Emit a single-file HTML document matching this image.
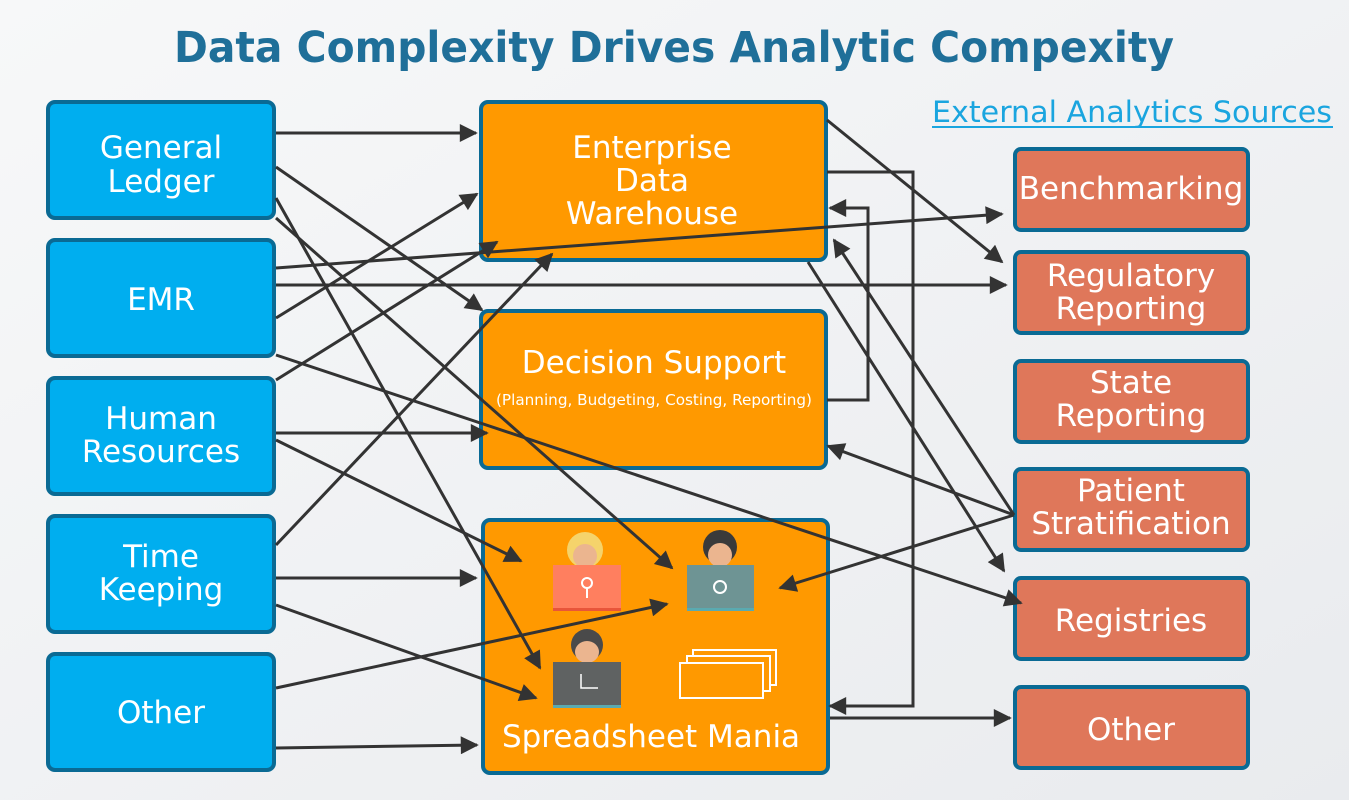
<!DOCTYPE html>
<html><head><meta charset="utf-8"><style>
body{margin:0;background:#f3f4f6;}
svg{display:block;font-family:"DejaVu Sans","Liberation Sans",sans-serif;}
</style></head><body>
<svg width="1349" height="800" viewBox="0 0 1349 800">
<defs>
<linearGradient id="bg" x1="0" y1="0" x2="1" y2="1"><stop offset="0" stop-color="#f7f8f9"/><stop offset="1" stop-color="#e9ebee"/></linearGradient>
<marker id="ar" viewBox="0 0 10 10" refX="9" refY="5" markerWidth="22" markerHeight="18" orient="auto" markerUnits="userSpaceOnUse"><path d="M0,0 L10,5 L0,10 z" fill="#333"/></marker>
</defs>
<rect width="1349" height="800" fill="url(#bg)"/>
<text x="674" y="62" text-anchor="middle" font-size="43" font-weight="bold" fill="#1F6F99" textLength="1000" lengthAdjust="spacingAndGlyphs">Data Complexity Drives Analytic Compexity</text>
<text x="1132" y="122" text-anchor="middle" font-size="29" fill="#1AA5DF" textLength="400" lengthAdjust="spacingAndGlyphs">External Analytics Sources</text>
<line x1="932" y1="127" x2="1333" y2="127" stroke="#1AA5DF" stroke-width="2"/>

<g stroke="#0A6A94" stroke-width="4" fill="#00AEEF">
<rect x="48" y="102" width="226" height="116" rx="7"/>
<rect x="48" y="240" width="226" height="116" rx="7"/>
<rect x="48" y="378" width="226" height="116" rx="7"/>
<rect x="48" y="516" width="226" height="116" rx="7"/>
<rect x="48" y="654" width="226" height="116" rx="7"/>
</g>
<g stroke="#0A6A94" stroke-width="4" fill="#FF9900">
<rect x="481" y="102" width="345" height="158" rx="7"/>
<rect x="481" y="311" width="345" height="157" rx="7"/>
<rect x="483" y="520" width="345" height="253" rx="7"/>
</g>
<g stroke="#0A6A94" stroke-width="4" fill="#DF775A">
<rect x="1015" y="149" width="233" height="81" rx="6"/>
<rect x="1015" y="252" width="233" height="81" rx="6"/>
<rect x="1015" y="361" width="233" height="81" rx="6"/>
<rect x="1015" y="469" width="233" height="81" rx="6"/>
<rect x="1015" y="578" width="233" height="81" rx="6"/>
<rect x="1015" y="687" width="233" height="81" rx="6"/>
</g>

<g fill="#fff" font-size="31" text-anchor="middle">
<text x="161" y="158">General</text><text x="161" y="192">Ledger</text>
<text x="161" y="310">EMR</text>
<text x="161" y="429">Human</text><text x="161" y="462">Resources</text>
<text x="161" y="567">Time</text><text x="161" y="600">Keeping</text>
<text x="161" y="723">Other</text>
<text x="652" y="158">Enterprise</text><text x="652" y="191">Data</text><text x="652" y="224">Warehouse</text>
<text x="654" y="373">Decision Support</text>
<text x="654" y="405" font-size="15" textLength="316" lengthAdjust="spacingAndGlyphs">(Planning, Budgeting, Costing, Reporting)</text>
<text x="651" y="747">Spreadsheet Mania</text>
<text x="1131" y="199">Benchmarking</text>
<text x="1131" y="286">Regulatory</text><text x="1131" y="319">Reporting</text>
<text x="1131" y="393">State</text><text x="1131" y="426">Reporting</text>
<text x="1131" y="501">Patient</text><text x="1131" y="534">Stratification</text>
<text x="1131" y="631">Registries</text>
<text x="1131" y="740">Other</text>
</g>

<g>
<ellipse cx="585" cy="550" rx="18" ry="18" fill="#F5D36B"/><ellipse cx="585" cy="556" rx="12" ry="12" fill="#EBB58F"/>
<rect x="553" y="565" width="68" height="46" fill="#FF7F5F"/><rect x="553" y="608" width="68" height="3" fill="#E8553A"/>
<circle cx="587" cy="583" r="5" fill="none" stroke="#fff" stroke-width="2"/><line x1="587" y1="588" x2="587" y2="598" stroke="#fff" stroke-width="2"/>
<ellipse cx="720" cy="547" rx="17" ry="17" fill="#3a3a3a"/><ellipse cx="720" cy="555" rx="12" ry="12" fill="#EBB58F"/>
<rect x="687" y="565" width="67" height="46" fill="#6E9494"/><rect x="687" y="608" width="67" height="3" fill="#5AAAB0"/>
<circle cx="720" cy="587" r="6" fill="none" stroke="#fff" stroke-width="2"/>
<ellipse cx="587" cy="645" rx="16" ry="16" fill="#4a4a4a"/><ellipse cx="587" cy="652" rx="12" ry="11" fill="#EBB58F"/>
<rect x="553" y="662" width="68" height="46" fill="#5F6262"/><rect x="553" y="705" width="68" height="3" fill="#5AAAB0"/>
<path d="M581,674 V688 H598" stroke="#fff" stroke-width="1.5" fill="none"/>
<g fill="#FF9900" stroke="#fff" stroke-width="2">
<rect x="693" y="650" width="83" height="35"/><rect x="687" y="656" width="83" height="35"/><rect x="680" y="663" width="83" height="35"/>
</g>
</g>

<g stroke="#333" stroke-width="3" fill="none" marker-end="url(#ar)">
<line x1="276" y1="133" x2="476" y2="133"/>
<line x1="276" y1="167" x2="482" y2="310"/>
<line x1="276" y1="198" x2="540" y2="668"/>
<line x1="276" y1="218" x2="672" y2="568"/>
<line x1="276" y1="268" x2="1002" y2="214"/>
<line x1="276" y1="285" x2="1006" y2="285"/>
<line x1="276" y1="318" x2="477" y2="194"/>
<line x1="276" y1="355" x2="1021" y2="603"/>
<line x1="276" y1="380" x2="497" y2="242"/>
<line x1="276" y1="433" x2="487" y2="433"/>
<line x1="276" y1="440" x2="521" y2="561"/>
<line x1="276" y1="545" x2="552" y2="254"/>
<line x1="276" y1="578" x2="476" y2="578"/>
<line x1="276" y1="605" x2="536" y2="698"/>
<line x1="276" y1="688" x2="667" y2="604"/>
<line x1="276" y1="748" x2="477" y2="745"/>
<line x1="827" y1="120" x2="1002" y2="262"/>
<line x1="808" y1="262" x2="1004" y2="571"/>
<polyline points="827,172 913,172 913,706 830,706"/>
<line x1="830" y1="718" x2="1010" y2="718"/>
<polyline points="827,400 868,400 868,208 830,208"/>
<line x1="1014" y1="515" x2="834" y2="240"/>
<line x1="1014" y1="515" x2="828" y2="446"/>
<line x1="1014" y1="515" x2="780" y2="588"/>
</g>
</svg>
</body></html>
